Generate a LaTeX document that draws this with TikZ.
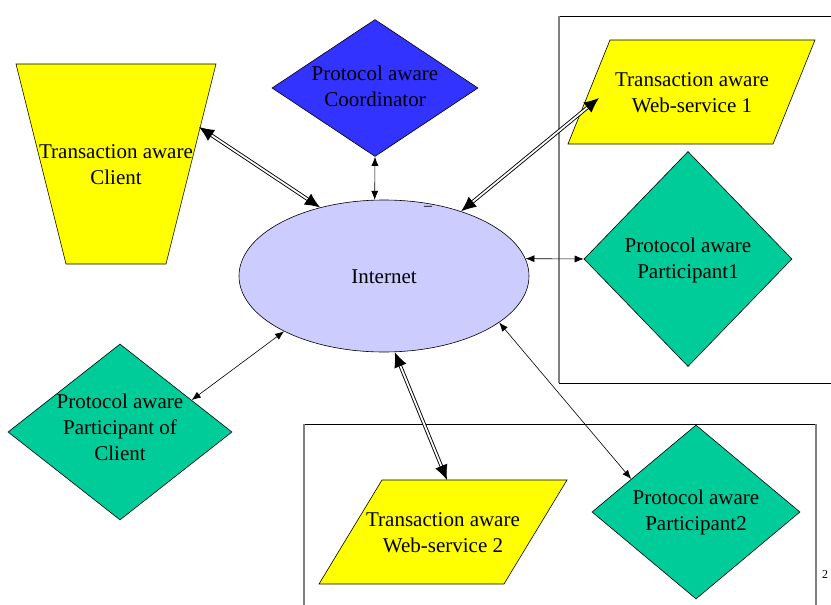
\documentclass[tikz,border=0pt]{standalone}
\usepackage{fontspec}
\setmainfont{Liberation Serif}
\usetikzlibrary{shapes.geometric,arrows.meta}
\definecolor{ylw}{HTML}{FFFF00}
\definecolor{blu}{HTML}{3333FF}
\definecolor{tea}{HTML}{00CC99}
\definecolor{lav}{HTML}{CCCCFF}
\definecolor{gry}{HTML}{808080}
\tikzset{
  lbl/.style={align=center,font=\fontsize{21}{26}\selectfont,inner sep=0pt},
  dia/.style={shape=diamond,draw=black,line width=0.6pt,inner sep=0pt},
  poly/.style={draw=black,line width=0.6pt},
  thinarrow/.style={line width=0.6pt,{Latex[length=9pt,width=7pt]}-{Latex[length=9pt,width=7pt]}},
  dblarrow/.style={double,double distance=1.8pt,line width=0.9pt,{Latex[length=15pt,width=13pt]}-{Latex[length=15pt,width=13pt]}},
  boxtop/.style={line width=0.9pt,draw=black},
  boxside/.style={line width=1.8pt,draw=gry}
}
\begin{document}
\begin{tikzpicture}[x=1pt,y=-1pt]
\useasboundingbox (0,0) rectangle (831,605);
% enclosing boxes
\draw[boxtop] (559,16) -- (835,16);
\draw[boxtop] (559,383) -- (835,383);
\draw[boxside] (559,16) -- (559,383);
\draw[boxtop] (304,424) -- (816,424);
\draw[boxside] (304,424) -- (304,610);
\draw[boxside] (816,424) -- (816,610);
% client trapezoid
\path[poly,fill=ylw] (16,64) -- (216,64) -- (166,264) -- (66,264) -- cycle;
\node[lbl] (client) at (116,165) {Transaction aware\\Client};
\coordinate (clientA) at (199,127);
% coordinator
\node[dia,fill=blu,minimum width=206pt,minimum height=137pt] (coord) at (375,88) {};
\node[lbl] (coordtxt) at (375,86) {Protocol aware\\Coordinator};
% WS1 parallelogram
\path[poly,fill=ylw] (610,40) -- (815,40) -- (773,144) -- (568,144) -- cycle;
\node[lbl] (ws1) at (692,93) {Transaction aware\\Web-service 1};
\coordinate (ws1A) at (599,98);
% participant1
\node[dia,fill=tea,minimum width=208pt,minimum height=215pt] (p1) at (688,259) {};
\node[lbl] (p1txt) at (688,260) {Protocol aware\\Participant1};
% internet
\node[shape=ellipse,draw=black,line width=0.6pt,fill=lav,minimum width=290pt,minimum height=152pt,inner sep=0pt] (net) at (384,276) {};
\node[lbl] (nettxt) at (384,277) {Internet};
\node[font=\fontsize{16}{16}\selectfont,inner sep=0pt] (dash) at (428,208) {--};
% participant of client
\node[dia,fill=tea,minimum width=224pt,minimum height=176pt] (pc) at (120,432) {};
\node[lbl] (pctxt) at (120,427) {Protocol aware\\Participant of\\Client};
% WS2 parallelogram
\path[poly,fill=ylw] (382,480) -- (567,480) -- (504,584) -- (319,584) -- cycle;
\node[lbl] (ws2) at (443,533) {Transaction aware\\Web-service 2};
\coordinate (ws2A) at (447,480);
% participant2
\node[dia,fill=tea,minimum width=208pt,minimum height=174pt] (p2) at (696,512) {};
\node[lbl] (p2txt) at (696,512) {Protocol aware\\Participant2};
% page number
\node[font=\fontsize{12}{13}\selectfont,anchor=west,inner sep=0pt] (pg) at (822,575) {2};
% connectors
\draw[dblarrow] (clientA) -- (net.133);
\draw[thinarrow] (coord.south) -- (net.97);
\draw[dblarrow] (ws1A) -- (net.40);
\draw[thinarrow] (net.7) -- (p1.west);
\draw[thinarrow] (net.209) -- (pc.24);
\draw[dblarrow] (net.278) -- (ws2A);
\draw[thinarrow] (net.338) -- (p2.153);
\end{tikzpicture}
\end{document}
